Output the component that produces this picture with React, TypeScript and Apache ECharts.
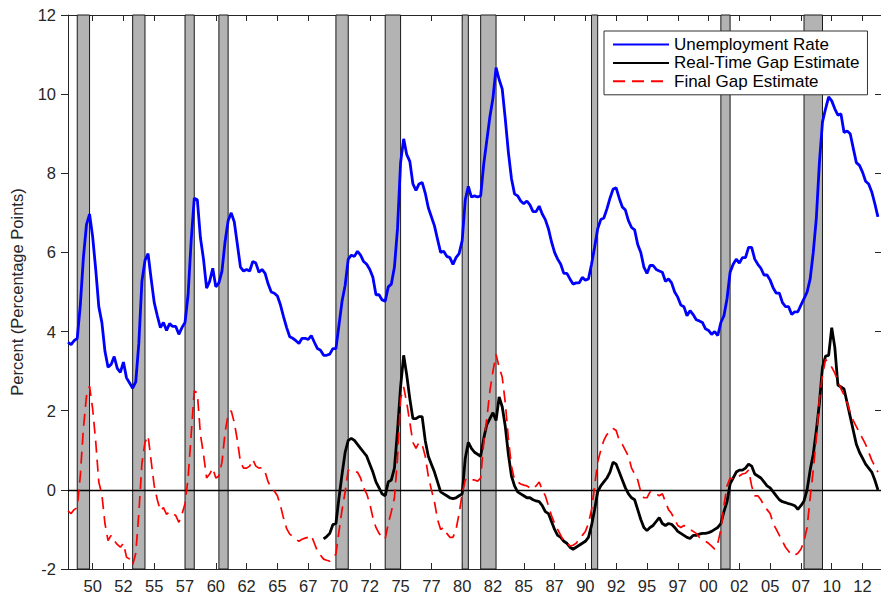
import React, { useEffect, useRef } from "react";
import * as echarts from "echarts";

// Quarterly data, first observation 1948Q1, plotted at year + (quarter-1)/4
const START_YEAR = 1948;

const unemploymentRate = [
  3.73, 3.67, 3.77, 3.83, 4.67, 5.87, 6.7, 6.97, 6.4, 5.57, 4.63, 4.23,
  3.5, 3.1, 3.17, 3.37, 3.07, 2.97, 3.23, 2.83, 2.7, 2.57, 2.73, 3.7,
  5.27, 5.8, 5.97, 5.33, 4.73, 4.4, 4.1, 4.23, 4.03, 4.2, 4.13, 4.13,
  3.93, 4.1, 4.23, 4.93, 6.3, 7.37, 7.33, 6.37, 5.83, 5.1, 5.27, 5.6,
  5.13, 5.23, 5.53, 6.27, 6.8, 7.0, 6.77, 6.2, 5.63, 5.53, 5.57, 5.53,
  5.77, 5.73, 5.5, 5.57, 5.47, 5.2, 5.0, 4.97, 4.9, 4.67, 4.37, 4.1,
  3.87, 3.83, 3.77, 3.7, 3.83, 3.83, 3.8, 3.9, 3.73, 3.57, 3.53, 3.4,
  3.4, 3.43, 3.57, 3.57, 4.17, 4.77, 5.17, 5.83, 5.93, 5.9, 6.03, 5.93,
  5.77, 5.7, 5.57, 5.37, 4.93, 4.93, 4.8, 4.77, 5.13, 5.2, 5.63, 6.6,
  8.27, 8.87, 8.47, 8.3, 7.73, 7.57, 7.73, 7.77, 7.5, 7.13, 6.9, 6.67,
  6.33, 6.0, 6.03, 5.9, 5.87, 5.7, 5.87, 5.97, 6.3, 7.33, 7.67, 7.4,
  7.43, 7.4, 7.43, 8.23, 8.83, 9.43, 9.9, 10.67, 10.37, 10.13, 9.37, 8.53,
  7.87, 7.48, 7.43, 7.3, 7.23, 7.3, 7.2, 7.03, 7.03, 7.17, 6.97, 6.83,
  6.6, 6.27, 6.0, 5.83, 5.7, 5.47, 5.47, 5.33, 5.2, 5.23, 5.23, 5.37,
  5.3, 5.33, 5.7, 6.13, 6.6, 6.83, 6.87, 7.1, 7.37, 7.6, 7.63, 7.37,
  7.15, 7.07, 6.8, 6.63, 6.57, 6.2, 6.0, 5.63, 5.47, 5.67, 5.67, 5.57,
  5.53, 5.5, 5.27, 5.33, 5.23, 5.0, 4.87, 4.67, 4.63, 4.4, 4.53, 4.43,
  4.3, 4.27, 4.23, 4.07, 4.03, 3.93, 4.0, 3.9, 4.23, 4.4, 4.83, 5.5,
  5.7, 5.83, 5.73, 5.87, 5.87, 6.13, 6.13, 5.83, 5.7, 5.6, 5.43, 5.43,
  5.3, 5.1, 4.97, 4.97, 4.73, 4.63, 4.63, 4.43, 4.5, 4.5, 4.67, 4.83,
  5.0, 5.33, 6.0, 6.87, 8.27, 9.3, 9.63, 9.93, 9.83, 9.63, 9.47, 9.5,
  9.03, 9.07, 9.0, 8.63, 8.27, 8.2, 8.03, 7.8, 7.73, 7.53, 7.23, 6.9,
];

const finalGap = [
  -0.53, -0.6, -0.5, -0.45, 0.37, 1.55, 2.37, 2.62, 2.05, 1.22, 0.2, -0.12,
  -0.85, -1.28, -1.15, -1.28, -1.38, -1.45, -1.35, -1.7, -1.75, -1.9, -1.6, -0.6,
  0.67, 1.2, 1.37, 0.73, 0.1, -0.25, -0.53, -0.45, -0.62, -0.55, -0.6, -0.65,
  -0.82, -0.62, -0.35, 0.3, 1.4, 2.5, 2.45, 1.4, 0.9, 0.3, 0.4, 0.55,
  0.3, 0.35, 0.7, 1.45, 1.9, 2.0, 1.7, 1.25, 0.7, 0.55, 0.55, 0.6,
  0.77, 0.6, 0.55, 0.56, 0.45, 0.2, 0.05, -0.03, -0.15, -0.4, -0.72, -0.98,
  -1.12, -1.18, -1.25, -1.3, -1.25, -1.22, -1.2, -1.15, -1.35, -1.55, -1.65, -1.75,
  -1.78, -1.8, -1.72, -1.62, -1.05, -0.5, -0.05, 0.5, 0.45, 0.45, 0.45, 0.3,
  0.05, -0.1, -0.35, -0.7, -0.95, -1.1, -1.2, -1.24, -0.85, -0.55, -0.2, 0.8,
  2.3, 2.6, 2.2, 1.7, 1.2, 1.05, 1.2, 1.15, 0.85, 0.35, 0.0, -0.3,
  -0.75, -1.0, -0.95, -1.1, -1.2, -1.2, -1.0, -0.6, -0.1, 0.25, 0.3, 0.25,
  0.25, 0.22, 0.3, 1.2, 1.8, 2.5, 3.0, 3.42, 3.1, 2.85, 2.2, 1.3,
  0.6, 0.25, 0.2, 0.15, 0.12, 0.1, 0.05, 0.02, 0.1, 0.2, 0.0, -0.15,
  -0.4, -0.65, -0.85, -1.0, -1.15, -1.3, -1.35, -1.42, -1.4, -1.35, -1.25, -1.15,
  -1.05, -0.85, -0.5, 0.1, 0.7, 1.0, 1.25, 1.4, 1.45, 1.55, 1.5, 1.25,
  1.15, 1.0, 0.85, 0.55, 0.4, 0.25, -0.05, -0.2, -0.2, -0.05, -0.1, -0.1,
  -0.15, -0.1, -0.3, -0.5, -0.6, -0.75, -0.9, -0.95, -0.9, -0.95, -1.0, -1.05,
  -1.1, -1.2, -1.25, -1.3, -1.35, -1.42, -1.5, -1.35, -1.0, -0.4, 0.1, 0.3,
  0.27, 0.3, 0.35, 0.4, 0.42, 0.5, 0.1, -0.15, -0.15, -0.25, -0.4, -0.5,
  -0.6, -0.85, -1.0, -1.15, -1.3, -1.45, -1.55, -1.65, -1.65, -1.6, -1.5, -1.3,
  -0.95, -0.2, 0.5, 1.3, 2.3, 2.9, 3.3, 3.2, 3.1, 2.95, 2.75, 2.55,
  2.4, 2.2, 1.95, 1.75, 1.6, 1.45, 1.3, 1.15, 0.95, 0.75, 0.6, 0.45,
];

// Real-time estimate begins in 1968Q4
const REAL_TIME_START = 1968.75;
const realTimeGap = [
  -1.24,
  -1.18, -1.1, -0.88, -0.85, -0.2, 0.4, 0.95, 1.25, 1.3, 1.25, 1.15, 1.05,
  0.95, 0.85, 0.65, 0.45, 0.2, 0.05, -0.1, -0.15, 0.2, 0.25, 0.55, 1.5,
  2.6, 3.4, 2.9, 2.3, 1.8, 1.8, 1.85, 1.85, 1.25, 0.85, 0.65, 0.45,
  0.2, -0.05, -0.1, -0.15, -0.2, -0.22, -0.2, -0.15, -0.1, 0.8, 1.2, 1.05,
  0.95, 0.9, 0.85, 1.3, 1.65, 1.8, 1.95, 1.75, 2.35, 2.1, 1.6, 0.9,
  0.35, 0.1, -0.05, -0.1, -0.15, -0.2, -0.2, -0.25, -0.28, -0.3, -0.4, -0.55,
  -0.6, -0.8, -1.0, -1.15, -1.2, -1.3, -1.35, -1.45, -1.5, -1.45, -1.4, -1.35,
  -1.3, -1.2, -0.9, -0.5, -0.05, 0.1, 0.2, 0.3, 0.45, 0.7, 0.65, 0.45,
  0.25, 0.05, -0.1, -0.2, -0.25, -0.5, -0.75, -0.95, -1.03, -0.95, -0.9, -0.8,
  -0.7, -0.85, -0.9, -0.85, -0.87, -0.95, -1.05, -1.1, -1.15, -1.2, -1.23, -1.15,
  -1.15, -1.12, -1.1, -1.1, -1.08, -1.05, -1.0, -0.95, -0.85, -0.55, -0.3, 0.15,
  0.3, 0.45, 0.5, 0.5, 0.55, 0.65, 0.6, 0.4, 0.35, 0.3, 0.2, 0.1,
  0.05, -0.05, -0.15, -0.25, -0.3, -0.32, -0.35, -0.37, -0.4, -0.49, -0.4, -0.28,
  0.0, 0.5, 0.9, 1.5, 2.2, 3.1, 3.38, 3.4, 4.1, 3.6, 2.65, 2.6,
  2.55, 2.2, 1.85, 1.5, 1.15, 0.95, 0.8, 0.65, 0.55, 0.45, 0.25, 0.0,
];

// NBER recessions (peak quarter to trough quarter)
const recessionStarts = [1948.75, 1953.25, 1957.5, 1960.25, 1969.75, 1973.75, 1980.0, 1981.5, 1990.5, 2001.0, 2007.75];
const recessionEnds = [1949.75, 1954.25, 1958.25, 1961.0, 1970.75, 1975.0, 1980.5, 1982.75, 1991.0, 2001.75, 2009.25];

const xTickValues = [1950, 1952.5, 1955, 1957.5, 1960, 1962.5, 1965, 1967.5, 1970, 1972.5, 1975, 1977.5, 1980, 1982.5, 1985, 1987.5, 1990, 1992.5, 1995, 1997.5, 2000, 2002.5, 2005, 2007.5, 2010, 2012.5];
const xTickLabels = ["50", "52", "55", "57", "60", "62", "65", "67", "70", "72", "75", "77", "80", "82", "85", "87", "90", "92", "95", "97", "00", "02", "05", "07", "10", "12"];

const seriesNames = ["Unemployment Rate", "Real-Time Gap Estimate", "Final Gap Estimate"];

const FONT = "'Liberation Sans', Arial, Helvetica, sans-serif";

export default function App() {
  const ref = useRef<HTMLDivElement>(null);

  useEffect(() => {
    if (!ref.current) return;
    const chart = echarts.init(ref.current, undefined, { renderer: "svg" });

    const toPairs = (start: number, arr: number[]) => arr.map((v, i) => [start + i / 4, v]);

    const axisColor = "#262626";

    const option: any = {
      animation: false,
      backgroundColor: "#fff",
      grid: { left: 67, right: -2, top: 15, bottom: 24, containLabel: false },
      legend: {
        data: seriesNames,
        orient: "vertical",
        left: 604,
        top: 31,
        itemWidth: 56,
        itemHeight: 14,
        itemGap: 1.4,
        padding: [5, 8, 5, 8],
        backgroundColor: "#fff",
        borderColor: "#333",
        borderWidth: 1,
        borderRadius: 0,
        itemStyle: { opacity: 0 },
        textStyle: { fontSize: 17, color: "#000", fontFamily: FONT },
        z: 20,
      },
      xAxis: [
        {
          type: "value",
          min: 1948,
          max: 2014,
          position: "bottom",
          axisLine: { show: true, onZero: false, lineStyle: { color: axisColor, width: 1 } },
          axisTick: { show: true, inside: true, length: 6, customValues: xTickValues, lineStyle: { color: axisColor } },
          axisLabel: {
            show: true,
            customValues: xTickValues,
            margin: 8,
            fontSize: 16.5,
            color: axisColor,
            fontFamily: FONT,
            formatter: (v: number) => {
              const i = xTickValues.findIndex((t) => Math.abs(t - v) < 1e-6);
              return i >= 0 ? xTickLabels[i] : "";
            },
          },
          splitLine: { show: false },
        },
        {
          type: "value",
          min: 1948,
          max: 2014,
          position: "top",
          axisLine: { show: true, onZero: false, lineStyle: { color: axisColor, width: 1 } },
          axisTick: { show: true, inside: true, length: 6, customValues: xTickValues, lineStyle: { color: axisColor } },
          axisLabel: { show: false },
          splitLine: { show: false },
        },
      ],
      yAxis: [
        {
          type: "value",
          min: -2,
          max: 12,
          interval: 2,
          position: "left",
          name: "Percent (Percentage Points)",
          nameLocation: "middle",
          nameGap: 43,
          nameTextStyle: { fontSize: 16.5, color: axisColor, fontFamily: FONT },
          axisLine: { show: true, onZero: false, lineStyle: { color: axisColor, width: 1 } },
          axisTick: { show: true, inside: false, length: 7, lineStyle: { color: axisColor } },
          axisLabel: { margin: 12, fontSize: 16.5, color: axisColor, fontFamily: FONT },
          splitLine: { show: false },
        },
        {
          type: "value",
          min: -2,
          max: 12,
          interval: 2,
          position: "right",
          axisLine: { show: true, onZero: false, lineStyle: { color: axisColor, width: 1 } },
          axisTick: { show: true, inside: true, length: 6, lineStyle: { color: axisColor } },
          axisLabel: { show: false },
          splitLine: { show: false },
        },
      ],
      series: [
        {
          name: "recessions",
          type: "line",
          data: [],
          z: 1,
          silent: true,
          markArea: {
            silent: true,
            itemStyle: { color: "#b3b3b3", borderColor: "#1a1a1a", borderWidth: 1 },
            data: recessionStarts.map((s, i) => [{ xAxis: s }, { xAxis: recessionEnds[i] }]),
          },
        },
        {
          name: "zero",
          type: "line",
          data: [],
          z: 2,
          silent: true,
          markLine: {
            silent: true,
            symbol: ["none", "none"],
            label: { show: false },
            lineStyle: { color: "#000", width: 1.3, type: "solid" },
            data: [{ yAxis: 0 }],
          },
        },
        {
          name: seriesNames[0],
          type: "line",
          data: toPairs(START_YEAR, unemploymentRate),
          showSymbol: false,
          symbol: "none",
          lineStyle: { color: "#0000ff", width: 2.8 },
          itemStyle: { color: "#0000ff" },
          z: 5,
        },
        {
          name: seriesNames[1],
          type: "line",
          data: toPairs(REAL_TIME_START, realTimeGap),
          showSymbol: false,
          symbol: "none",
          lineStyle: { color: "#000000", width: 2.8 },
          itemStyle: { color: "#000000" },
          z: 5,
        },
        {
          name: seriesNames[2],
          type: "line",
          data: toPairs(START_YEAR, finalGap),
          showSymbol: false,
          symbol: "none",
          lineStyle: { color: "#ff0000", width: 1.7, type: [12, 7] },
          itemStyle: { color: "#ff0000" },
          z: 6,
        },
      ],
    };

    chart.setOption(option);
    return () => chart.dispose();
  }, []);

  return <div ref={ref} style={{ width: 881, height: 594, position: "absolute", left: 0, top: 0 }} />;
}
